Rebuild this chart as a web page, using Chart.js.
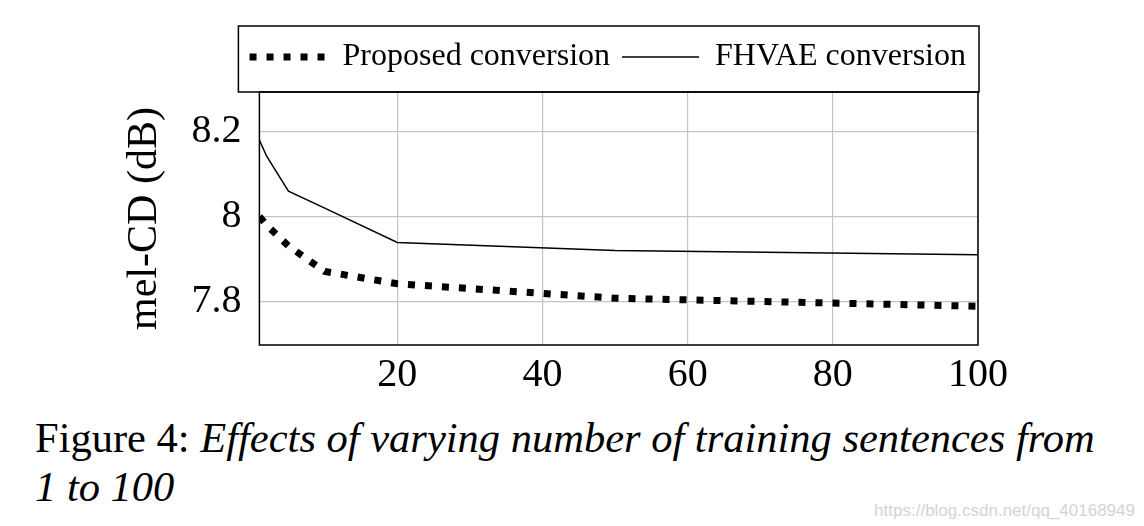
<!DOCTYPE html>
<html lang="en">
<head>
  <meta charset="UTF-8">
  <title>Figure 4 - mel-CD vs training sentences</title>
  <script src="https://cdn.jsdelivr.net/npm/chart.js"></script>
  <style>
    body {
      margin: 0;
      background: #fff;
    }
    .page {
      position: relative;
      width: 1144px;
      height: 526px;
      overflow: hidden;
    }
    .chart-box {
      position: absolute;
      left: 0;
      top: 0;
      width: 1144px;
      height: 410px;
    }
    .caption {
      position: absolute;
      left: 35px;
      top: 413px;
      font-family: 'Liberation Serif', serif;
      font-size: 42.5px;
      line-height: 49px;
      color: #000;
      white-space: nowrap;
    }
    .watermark {
      position: absolute;
      right: 9px;
      top: 502px;
      font-family: 'Liberation Sans', sans-serif;
      font-size: 17px;
      line-height: 17px;
      color: #d4d4d4;
    }
  </style>
</head>
<body>

<div class="page">
  <div class="chart-box"><canvas id="melChart"></canvas></div>
  <div class="caption">Figure 4: <i>Effects of varying number of training sentences from</i><br><i>1 to 100</i></div>
  <div class="watermark">https://blog.csdn.net/qq_40168949</div>
</div>

<script>
  // values
  const sentences = [1, 2, 5, 10, 20, 50, 100];
  const proposedCD = [8.0, 7.98, 7.931, 7.871, 7.842, 7.808, 7.789];
  const fhvaeCD = [8.18, 8.142, 8.06, 8.02, 7.939, 7.92, 7.91];
  const xTickValues = [20, 40, 60, 80, 100];
  const yTickValues = [7.8, 8, 8.2];
  const yTickLabels = ['7.8', '8', '8.2'];

  const serif = 'Liberation Serif';

  // legend frame + plot frame
  const framePlugin = {
    id: 'frames',
    afterDraw(chart) {
      const { ctx, chartArea: a } = chart;
      ctx.save();
      ctx.strokeStyle = '#000';
      ctx.lineWidth = 1.5;
      ctx.strokeRect(a.left, a.top, a.right - a.left, a.bottom - a.top);
      const boxLeft = a.left - 21;
      const boxTop = chart.legend.top - 3;
      ctx.strokeRect(boxLeft, boxTop, a.right + 1 - boxLeft, a.top - boxTop);
      ctx.restore();
    }
  };

  const ctx = document.getElementById('melChart').getContext('2d');
  new Chart(ctx, {
    type: 'line',
    data: {
      datasets: [{
        label: 'Proposed conversion',
        data: sentences.map((x, i) => ({ x: x, y: proposedCD[i] })),
        borderColor: '#000',
        backgroundColor: '#000',
        borderWidth: 7,
        borderDash: [7, 10],
        borderCapStyle: 'butt',
        pointRadius: 0,
        tension: 0,
        fill: false
      }, {
        label: 'FHVAE conversion',
        data: sentences.map((x, i) => ({ x: x, y: fhvaeCD[i] })),
        borderColor: '#000',
        backgroundColor: '#000',
        borderWidth: 1.5,
        pointRadius: 0,
        tension: 0,
        fill: false
      }]
    },
    options: {
      responsive: true,
      maintainAspectRatio: false,
      animation: false,
      layout: { padding: { top: 29, left: 120, right: 166, bottom: 5 } },
      plugins: {
        legend: {
          position: 'top',
          align: 'end',
          labels: {
            usePointStyle: true,
            pointStyle: 'line',
            pointStyleWidth: 77,
            padding: 12,
            color: '#000',
            font: { family: serif, size: 32 },
            generateLabels(chart) {
              const items = Chart.defaults.plugins.legend.labels.generateLabels(chart);
              items.forEach(it => {
                const ds = chart.data.datasets[it.datasetIndex];
                it.lineWidth = ds.borderWidth;
                it.lineDash = ds.borderDash || [];
                it.strokeStyle = ds.borderColor;
                it.lineCap = 'butt';
              });
              return items;
            }
          }
        },
        // empty spacer between legend and plot
        title: {
          display: true,
          text: '',
          weight: 100,
          fullSize: false,
          padding: 0,
          font: { size: 9, lineHeight: 1 }
        },
        tooltip: { enabled: false }
      },
      scales: {
        x: {
          type: 'linear',
          min: 1,
          max: 100,
          afterBuildTicks: axis => { axis.ticks = xTickValues.map(v => ({ value: v })); },
          grid: { color: '#c4c4c4', lineWidth: 1.2, drawTicks: false },
          border: { display: false },
          ticks: {
            color: '#000',
            padding: 6,
            maxRotation: 0,
            autoSkip: false,
            font: { family: serif, size: 40 }
          }
        },
        y: {
          min: 7.698,
          max: 8.293,
          afterBuildTicks: axis => { axis.ticks = yTickValues.map(v => ({ value: v })); },
          grid: { color: '#c4c4c4', lineWidth: 1.2, drawTicks: false },
          border: { display: false },
          ticks: {
            color: '#000',
            padding: 18,
            font: { family: serif, size: 40 },
            callback: (value, index) => yTickLabels[index]
          },
          title: {
            display: true,
            text: 'mel-CD (dB)',
            color: '#000',
            padding: { top: 0, bottom: 3 },
            font: { family: serif, size: 42 }
          }
        }
      }
    },
    plugins: [framePlugin]
  });
</script>
</body>
</html>
